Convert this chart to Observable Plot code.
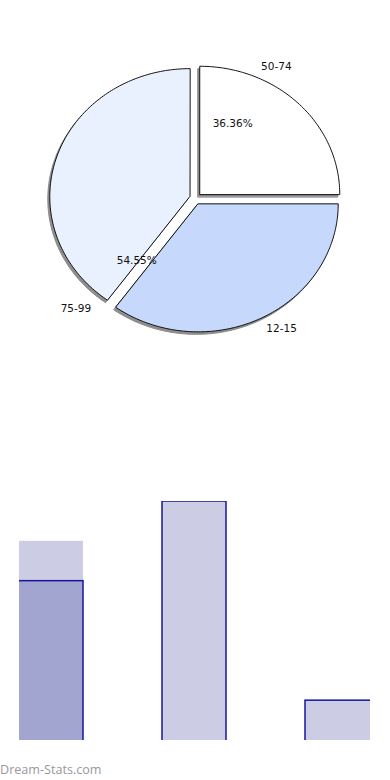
<!DOCTYPE html>
<html>
<head>
<meta charset="utf-8">
<script src="https://cdn.jsdelivr.net/npm/d3@7"></script>
<script src="https://cdn.jsdelivr.net/npm/@observablehq/plot@0.6"></script>
<style>
  html, body { margin: 0; padding: 0; background: #ffffff; }
  #page { position: relative; width: 390px; height: 780px; overflow: hidden; }
  #pie { position: absolute; left: 0; top: 0; }
  #bars { position: absolute; left: 0; top: 400px; }
  #mark { position: absolute; left: 0; top: 762px; font-family: "Open Sans", sans-serif; font-size: 12.6px; line-height: 16px; color: #999999; }
  svg { display: block; }
</style>
</head>
<body>
<div id="page">
  <div id="pie"></div>
  <div id="bars"></div>
  <div id="mark">Dream-Stats.com</div>
</div>
<script>
// ---- data ----
const pieCategories = ["50-74", "12-15", "75-99"];
const pieShares = [25, 35, 40];              // slice sizes as drawn (%)
const percentLabels = ["36.36%", "", "54.55%"];
const barCategories = ["50-74", "75-99", "12-15"];
const barBackValues = [5, 6, 1];
const barFrontValues = [4, 6, 1];

// ---- layout constants ----
const cx = 195, cy = 198, rx = 140, ry = 128, explode = 6;
const labelAngles = [29.3, 148.9, 224.9];     // degrees, clockwise from top
const labelRadius = [1.18, 1.19, 1.21];
const pctAngles = [24.5, null, 221];
const pctRadius = 0.64;
const colors = ["#ffffff", "#c6d9fd", "#eaf1fe"];

const rad = Math.PI / 180;
const arcs = d3.pie().sort(null).value(d => d)(pieShares);
const slices = arcs.map((a, i) => {
  const mid = (a.startAngle + a.endAngle) / 2;
  const ox = explode * Math.sin(mid), oy = -explode * Math.cos(mid);
  const pts = [{x: cx + ox, y: cy + oy}];
  const n = Math.max(2, Math.ceil((a.endAngle - a.startAngle) / rad));
  for (let k = 0; k <= n; k++) {
    const t = a.startAngle + (a.endAngle - a.startAngle) * k / n;
    pts.push({x: cx + ox + rx * Math.sin(t), y: cy + oy - ry * Math.cos(t)});
  }
  return {cat: pieCategories[i], pts, color: colors[i]};
});

const labels = pieCategories.map((c, i) => ({
  text: c,
  x: cx + labelRadius[i] * rx * Math.sin(labelAngles[i] * rad),
  y: cy - labelRadius[i] * ry * Math.cos(labelAngles[i] * rad)
}));
const pcts = percentLabels.map((t, i) => pctAngles[i] == null ? null : ({
  text: t,
  x: cx + pctRadius * rx * Math.sin(pctAngles[i] * rad),
  y: cy - pctRadius * ry * Math.cos(pctAngles[i] * rad)
})).filter(d => d);

const pie = Plot.plot({
  width: 390, height: 400, margin: 0,
  style: {background: "transparent", fontFamily: "DejaVu Sans"},
  x: {domain: [0, 390], range: [0, 390], axis: null},
  y: {domain: [0, 400], range: [0, 400], axis: null},
  marks: [
    ...slices.map(s => Plot.line(s.pts, {
      x: d => d.x - 2, y: d => d.y + 2.5, fill: "#7a7a7a", fillOpacity: 0.85,
      stroke: "#8a8a8a", strokeWidth: 1, curve: "linear-closed"
    })),
    ...slices.map(s => Plot.line(s.pts, {
      x: "x", y: "y", fill: s.color, stroke: "#111", strokeWidth: 1, curve: "linear-closed"
    })),
    Plot.text(labels, {x: "x", y: "y", text: "text", fontSize: 10.5, fill: "#111", fontFamily: "DejaVu Sans"}),
    Plot.text(pcts, {x: "x", y: "y", text: "text", fontSize: 10.5, fill: "#111", fontFamily: "DejaVu Sans"})
  ]
});
document.getElementById("pie").appendChild(pie);

const back = barCategories.map((c, i) => ({cat: c, v: barBackValues[i], i}));
const front = barCategories.map((c, i) => ({cat: c, v: barFrontValues[i], i}));
const last = barCategories.length - 1;
const light = "#ccccE5", dark = "#a3a5d1", edge = "#16169c";

const bars = Plot.plot({
  width: 390, height: 350,
  marginTop: 101, marginBottom: 10, marginLeft: 19, marginRight: 20,
  style: {background: "transparent"},
  x: {type: "band", domain: barCategories, range: [19, 370], paddingInner: 0.55, paddingOuter: 0, axis: null},
  y: {domain: [0, 6], axis: null},
  marks: [
    Plot.barY(back, {filter: d => d.i === 0, x: "cat", y: "v", fill: light, insetBottom: -4, insetLeft: -6, clip: true}),
    Plot.barY(back, {filter: d => d.i > 0, x: "cat", y: "v", fill: light, insetBottom: -4, clip: true}),
    Plot.barY(front, {filter: d => d.i === 0, x: "cat", y: "v", fill: dark, stroke: edge, strokeWidth: 1.5,
      insetBottom: -4, insetLeft: -6, clip: true}),
    Plot.barY(front, {filter: d => d.i > 0 && d.i < last, x: "cat", y: "v", fill: light, stroke: edge, strokeWidth: 1.5,
      insetBottom: -4, clip: true}),
    Plot.barY(front, {filter: d => d.i === last, x: "cat", y: "v", fill: light, stroke: edge, strokeWidth: 1.5,
      insetBottom: -4, insetRight: -6, clip: true})
  ]
});
document.getElementById("bars").appendChild(bars);
</script>
</body>
</html>
